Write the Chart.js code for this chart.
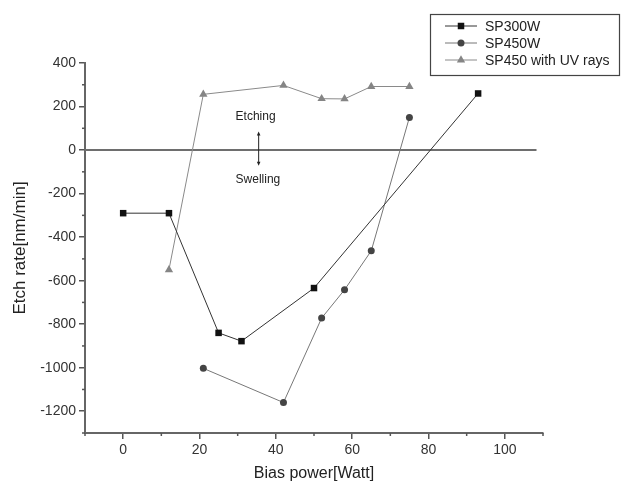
<!DOCTYPE html>
<html>
<head>
<meta charset="utf-8">
<script src="https://cdn.jsdelivr.net/npm/chart.js@4.4.1/dist/chart.umd.min.js"></script>
<style>
  html, body { margin: 0; padding: 0; background: #fff; }
  #wrap { width: 623px; height: 489px; }
</style>
</head>
<body>
<div id="wrap"><canvas id="etch" width="623" height="489"></canvas></div>
<script>
// Series
const seriesNames = ['SP300W', 'SP450W', 'SP450 with UV rays'];
const sp300Power = [0, 12, 25, 31, 50, 93];
const sp300Rate = [-290, -290, -840, -878, -634, 260];
const sp450Power = [21, 42, 52, 58, 65, 75];
const sp450Rate = [-1003, -1160, -772, -642, -463, 150];
const uvPower = [12, 21, 42, 52, 58, 65, 75];
const uvRate = [-550, 256, 297, 236, 235, 292, 292];

// Axis ticks
const xTicks = [0, 20, 40, 60, 80, 100];
const yTicks = [-1200, -1000, -800, -600, -400, -200, 0, 200, 400];
const xMinor = [-10, 10, 30, 50, 70, 90, 110];
const yMinor = [-1300, -1100, -900, -700, -500, -300, -100, 100, 300];

const FONT = '"Liberation Sans", Arial, sans-serif';

const toPoints = (xs, ys) => xs.map((v, i) => ({ x: v, y: ys[i] }));

// Minor ticks, annotation text, arrow and the boxed legend
const decorations = {
    id: 'decorations',
    afterDraw(chart) {
        const { ctx, scales: { x, y } } = chart;
        ctx.save();

        // minor ticks
        ctx.strokeStyle = '#555';
        ctx.lineWidth = 1.5;
        xMinor.forEach(v => {
            const px = x.getPixelForValue(v);
            ctx.beginPath();
            ctx.moveTo(px, x.top);
            ctx.lineTo(px, x.top + 3);
            ctx.stroke();
        });
        yMinor.forEach(v => {
            const py = y.getPixelForValue(v);
            ctx.beginPath();
            ctx.moveTo(y.right, py);
            ctx.lineTo(y.right - 3, py);
            ctx.stroke();
        });

        // Etching / Swelling
        ctx.fillStyle = '#222';
        ctx.font = '12px ' + FONT;
        ctx.textAlign = 'center';
        ctx.textBaseline = 'middle';
        ctx.fillText('Etching', x.getPixelForValue(34.7), y.getPixelForValue(152));
        ctx.fillText('Swelling', x.getPixelForValue(35.3), y.getPixelForValue(-136));

        // double arrow
        const ax = x.getPixelForValue(35.5);
        const aTop = y.getPixelForValue(85);
        const aBot = y.getPixelForValue(-72);
        ctx.strokeStyle = '#222';
        ctx.lineWidth = 1;
        ctx.beginPath();
        ctx.moveTo(ax, aTop + 3);
        ctx.lineTo(ax, aBot - 3);
        ctx.stroke();
        ctx.beginPath();
        ctx.moveTo(ax, aTop);
        ctx.lineTo(ax - 1.8, aTop + 4);
        ctx.lineTo(ax + 1.8, aTop + 4);
        ctx.closePath();
        ctx.moveTo(ax, aBot);
        ctx.lineTo(ax - 1.8, aBot - 4);
        ctx.lineTo(ax + 1.8, aBot - 4);
        ctx.closePath();
        ctx.fill();

        // legend box
        ctx.strokeStyle = '#444';
        ctx.lineWidth = 1.2;
        ctx.strokeRect(430.5, 14.5, 189, 61);
        ctx.font = '14px ' + FONT;
        ctx.textAlign = 'left';
        chart.data.datasets.slice(0, 3).forEach((ds, i) => {
            const ly = 26 + i * 17;
            ctx.strokeStyle = ds.borderColor;
            ctx.lineWidth = 1;
            ctx.beginPath();
            ctx.moveTo(445, ly);
            ctx.lineTo(477, ly);
            ctx.stroke();
            ctx.fillStyle = ds.pointBackgroundColor;
            ctx.strokeStyle = ds.pointBackgroundColor;
            Chart.helpers.drawPoint(ctx, {
                pointStyle: ds.pointStyle, radius: ds.pointRadius, rotation: 0, borderWidth: 0
            }, 461, ly);
            ctx.fillStyle = '#222';
            ctx.fillText(seriesNames[i], 485, ly + 1);
        });

        ctx.restore();
    }
};

const chartdata = {
    datasets: [{
        label: seriesNames[0],
        data: toPoints(sp300Power, sp300Rate),
        borderColor: '#333',
        borderWidth: 1,
        pointStyle: 'rect',
        pointRadius: 4.6,
        pointBackgroundColor: '#111',
        pointBorderWidth: 0,
        order: 1
    }, {
        label: seriesNames[1],
        data: toPoints(sp450Power, sp450Rate),
        borderColor: '#777',
        borderWidth: 1,
        pointStyle: 'circle',
        pointRadius: 3.5,
        pointBackgroundColor: '#444',
        pointBorderWidth: 0,
        order: 2
    }, {
        label: seriesNames[2],
        data: toPoints(uvPower, uvRate),
        borderColor: '#8a8a8a',
        borderWidth: 1,
        pointStyle: 'triangle',
        pointRadius: 4.8,
        pointBackgroundColor: '#858585',
        pointBorderWidth: 0,
        order: 3
    }, {
        // horizontal line at zero
        label: 'zero',
        data: [{ x: -10, y: 0 }, { x: 108.3, y: 0 }],
        borderColor: '#6e6e6e',
        borderWidth: 2,
        pointRadius: 0,
        order: 10
    }]
};

const axisCommon = {
    type: 'linear',
    grid: { drawOnChartArea: false, drawTicks: true, tickLength: 6, color: '#555', lineWidth: 1.5 },
    border: { display: true, color: '#666', width: 2 },
    ticks: { color: '#333', font: { family: FONT, size: 14 }, padding: 3, callback: v => String(v) }
};

const chartconfig = {
    type: 'line',
    data: chartdata,
    options: {
        responsive: false,
        animation: false,
        layout: { padding: { top: 63, right: 80, left: 0, bottom: 0 } },
        plugins: {
            legend: { display: false },
            tooltip: { enabled: false }
        },
        scales: {
            x: {
                ...axisCommon,
                min: -10,
                max: 110,
                afterBuildTicks: s => { s.ticks = xTicks.map(v => ({ value: v })); },
                afterFit: s => { s.height = 56; },
                title: {
                    display: true,
                    text: 'Bias power[Watt]',
                    color: '#222',
                    font: { family: FONT, size: 16 },
                    padding: { top: 0, bottom: 6 }
                }
            },
            y: {
                ...axisCommon,
                min: -1300,
                max: 400,
                afterBuildTicks: s => { s.ticks = yTicks.map(v => ({ value: v })); },
                afterFit: s => { s.width = 85; },
                title: {
                    display: true,
                    text: 'Etch rate[nm/min]',
                    color: '#222',
                    font: { family: FONT, size: 17 },
                    padding: { top: 10, bottom: 0 }
                }
            }
        }
    },
    plugins: [decorations]
};

const canvas = document.getElementById('etch');
if (canvas) {
    new Chart(canvas, chartconfig);
}
</script>
</body>
</html>
